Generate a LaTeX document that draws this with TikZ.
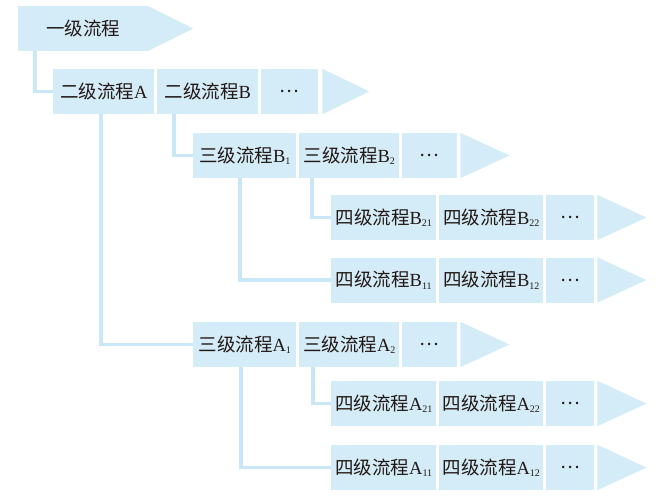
\documentclass[tikz,border=0pt]{standalone}
\usepackage{fontspec}
\setmainfont{Liberation Serif}
\newfontfamily\cjkfont{Noto Sans CJK SC}
\usetikzlibrary{calc}
\definecolor{boxblue}{HTML}{D3ECF8}
\definecolor{linkblue}{HTML}{C9E7F6}
\definecolor{txt}{HTML}{231815}
\newcommand\zh[1]{{\cjkfont #1}}
\newcommand\subn[1]{\raisebox{-2.5pt}{\fontsize{10}{10}\selectfont #1}}
\begin{document}
\begin{tikzpicture}[x=1pt,y=-1pt,
  cell/.style={fill=boxblue, inner sep=0pt, minimum height=45pt, text=txt,
    font=\fontsize{18.5}{20}\selectfont, anchor=west},
  conn/.style={draw=linkblue, line width=3.5pt},
  tipfill/.style={fill=boxblue}]
\useasboundingbox (0,0) rectangle (661,497);
% level 1
\node[cell, minimum width=130pt] (l1) at (18,28.5) {\zh{一级流程}};
\fill[tipfill] ($(l1.north east)+(-1,0)$) -- ($(l1.east)+(45,0)$) -- ($(l1.south east)+(-1,0)$) -- cycle;
% level 2
\node[cell, minimum width=101pt] (a) at (53,91.5) {\zh{二级流程}A};
\node[cell, minimum width=101pt] (b) at (157,91.5) {\zh{二级流程}B};
\node[cell, minimum width=57pt] (d2) at (261,91.5) {\zh{…}};
\fill[tipfill] ($(d2.north east)+(4,0)$) -- ($(d2.east)+(51,0)$) -- ($(d2.south east)+(4,0)$) -- cycle;
% level 3 B
\node[cell, minimum width=103pt] (b1) at (193,155.5) {\zh{三级流程}B\subn{1}};
\node[cell, minimum width=100pt] (b2) at (299,155.5) {\zh{三级流程}B\subn{2}};
\node[cell, minimum width=55pt] (d3b) at (402,155.5) {\zh{…}};
\fill[tipfill] ($(d3b.north east)+(3,0)$) -- ($(d3b.east)+(52,0)$) -- ($(d3b.south east)+(3,0)$) -- cycle;
% level 4 B2
\node[cell, minimum width=105pt] (b21) at (331,217.5) {\zh{四级流程}B\subn{21}};
\node[cell, minimum width=104pt] (b22) at (439,217.5) {\zh{四级流程}B\subn{22}};
\node[cell, minimum width=48pt] (d4b2) at (546,217.5) {\zh{…}};
\fill[tipfill] ($(d4b2.north east)+(3,0)$) -- ($(d4b2.east)+(52,0)$) -- ($(d4b2.south east)+(3,0)$) -- cycle;
% level 4 B1
\node[cell, minimum width=105pt] (b11) at (331,280) {\zh{四级流程}B\subn{11}};
\node[cell, minimum width=104pt] (b12) at (439,280) {\zh{四级流程}B\subn{12}};
\node[cell, minimum width=48pt] (d4b1) at (546,280) {\zh{…}};
\fill[tipfill] ($(d4b1.north east)+(3,0)$) -- ($(d4b1.east)+(52,0)$) -- ($(d4b1.south east)+(3,0)$) -- cycle;
% level 3 A
\node[cell, minimum width=103pt] (a1) at (193,344.5) {\zh{三级流程}A\subn{1}};
\node[cell, minimum width=100pt] (a2) at (299,344.5) {\zh{三级流程}A\subn{2}};
\node[cell, minimum width=55pt] (d3a) at (402,344.5) {\zh{…}};
\fill[tipfill] ($(d3a.north east)+(3,0)$) -- ($(d3a.east)+(52,0)$) -- ($(d3a.south east)+(3,0)$) -- cycle;
% level 4 A2
\node[cell, minimum width=105pt] (a21) at (331,403.5) {\zh{四级流程}A\subn{21}};
\node[cell, minimum width=104pt] (a22) at (439,403.5) {\zh{四级流程}A\subn{22}};
\node[cell, minimum width=48pt] (d4a2) at (546,403.5) {\zh{…}};
\fill[tipfill] ($(d4a2.north east)+(3,0)$) -- ($(d4a2.east)+(52,0)$) -- ($(d4a2.south east)+(3,0)$) -- cycle;
% level 4 A1
\node[cell, minimum width=105pt] (a11) at (331,467.5) {\zh{四级流程}A\subn{11}};
\node[cell, minimum width=104pt] (a12) at (439,467.5) {\zh{四级流程}A\subn{12}};
\node[cell, minimum width=48pt] (d4a1) at (546,467.5) {\zh{…}};
\fill[tipfill] ($(d4a1.north east)+(3,0)$) -- ($(d4a1.east)+(52,0)$) -- ($(d4a1.south east)+(3,0)$) -- cycle;
% connectors
\draw[conn] ($(l1.south west)+(17,0)$) |- (a.west);
\draw[conn] ($(a.south west)+(48,0)$) |- (a1.west);
\draw[conn] ($(b.south west)+(17,0)$) |- (b1.west);
\draw[conn] ($(b1.south west)+(47,0)$) |- (b11.west);
\draw[conn] ($(b2.south west)+(13,0)$) |- (b21.west);
\draw[conn] ($(a1.south west)+(48,0)$) |- (a11.west);
\draw[conn] ($(a2.south west)+(14,0)$) |- (a21.west);
\end{tikzpicture}
\end{document}
